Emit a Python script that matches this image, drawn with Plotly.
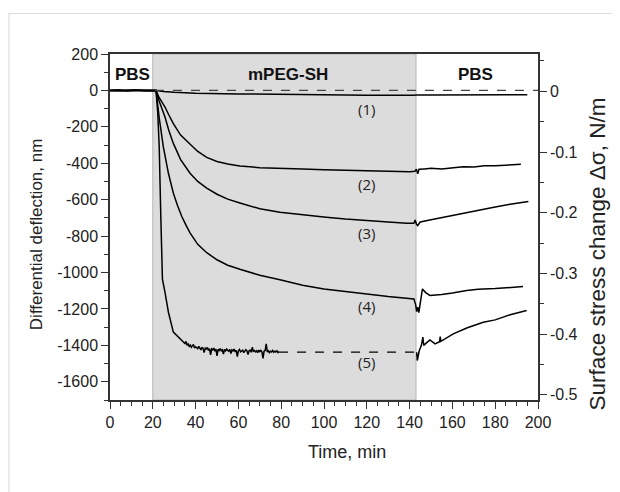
import plotly.graph_objects as go

# ---- data ----
t1 = [0, 5, 10, 15, 20, 21.5, 25, 30, 40, 60, 80, 100, 120, 142, 143, 150, 170, 195]
v1 = [0, -2, 2, -1, 0, 0, -6, -10, -15, -19, -22, -24, -26, -27, -25, -25, -24, -24]

t2 = [0, 4, 8, 12, 16, 20, 21.5, 23, 25.7, 27.5, 29.6, 33, 37.4, 41, 45.2, 50, 55, 60.7, 70, 79.4,
      90, 100, 110, 120, 130, 135, 140, 142.5, 143.2, 143.8, 144.4, 147, 150, 155, 160, 165, 170,
      175, 180, 186, 192]
v2 = [0, 3, -3, 2, -2, 0, 0, -40, -91, -135, -182, -245, -293, -335, -368, -390, -404, -415, -424, -429,
      -432, -435, -438, -440, -443, -447, -446, -444, -432, -458, -433, -431, -428, -432, -424, -419, -421,
      -414, -413, -410, -406]

t3 = [0, 21.5, 23, 25.7, 27.5, 29.6, 33, 37.4, 41, 45.2, 50, 55, 60.7, 70, 79.4, 90, 101, 110, 120,
      130, 138.6, 142, 142.6, 143.2, 143.8, 145, 150, 155, 160, 166.7, 172, 180, 187, 195.5]
v3 = [0, 0, -60, -146, -220, -291, -380, -455, -500, -536, -570, -597, -618, -650, -669, -684, -696, -706, -716,
      -723, -729, -730, -712, -735, -742, -722, -710, -698, -688, -669, -658, -640, -625, -610]

t4 = [0, 21.5, 23, 24.9, 27.3, 29.6, 31.5, 33.5, 35.5, 37.4, 41, 45.2, 50, 55, 60.7, 70, 79.4, 90, 100,
      110, 118, 130, 142, 142.8, 143.3, 143.8, 144.3, 146, 147.5, 149.5, 155, 160, 166.7, 172, 180, 186, 193]
v4 = [0, 0, -150, -309, -455, -564, -630, -691, -740, -782, -845, -891, -930, -960, -982, -1015, -1040, -1070, -1090,
      -1105, -1117, -1132, -1145, -1175, -1215, -1190, -1220, -1090, -1110, -1126, -1120, -1113, -1099, -1092, -1088, -1083, -1077]

t5 = [0, 21.5, 22.3, 23.0, 23.7, 24.5, 25.7, 27.3, 29.6, 31.9, 34.3,
      35, 35.5, 36, 36.5, 37, 37.5, 38, 38.5, 39, 39.5, 40, 40.5, 41, 41.5, 42, 42.5, 43, 43.5, 44, 44.5,
      45, 45.5, 46, 46.5, 47, 47.5, 48, 48.5, 49, 49.5, 50, 50.5, 51, 51.5, 52, 52.5, 53, 53.5, 54, 54.5,
      55, 55.5, 56, 56.5, 57, 57.5, 58, 58.5, 59, 59.5, 60, 60.5, 61, 61.5, 62, 62.5, 63, 63.5, 64, 64.5,
      65, 65.5, 66, 66.5, 67, 67.5, 68, 68.5, 69, 69.5, 70, 70.5, 71, 71.5, 72, 72.5, 73, 73.5, 74, 74.5,
      75, 75.5, 76, 76.5, 77, 77.5, 78, 78.5, 79]
v5 = [0, 0, -120, -309, -673, -1036, -1109, -1218, -1327, -1355, -1382,
      -1390, -1378, -1400, -1392, -1405, -1398, -1410, -1402, -1395, -1415, -1408, -1412, -1420, -1405, -1418, -1425, -1410, -1418, -1440, -1415,
      -1420, -1412, -1428, -1418, -1452, -1420, -1425, -1415, -1432, -1420, -1458, -1422, -1428, -1418, -1430, -1425, -1448, -1422, -1430, -1420,
      -1428, -1432, -1422, -1445, -1425, -1430, -1420, -1436, -1428, -1462, -1430, -1422, -1435, -1428, -1426, -1440, -1432, -1424, -1430, -1450,
      -1430, -1426, -1438, -1410, -1432, -1428, -1436, -1430, -1440, -1426, -1434, -1428, -1436, -1472, -1432, -1428, -1392, -1436,
      -1430, -1440, -1432, -1436, -1428, -1438, -1432, -1436, -1430, -1440, -1434, -1438, -1462]

t5_gap = [79, 143.3]
v5_gap = [-1437, -1437]

t5b = [143.3, 143.6, 144.5, 145.5, 146.2, 146.6, 148, 149.5, 151.9, 154, 154.3, 154.6, 160.4, 167, 174.4, 180, 187, 194.7]
v5b = [-1438, -1483, -1430, -1400, -1355, -1400, -1385, -1370, -1392, -1380, -1352, -1378, -1337, -1303, -1273, -1260, -1232, -1209]

t_zero = [21, 200]
v_zero = [0, 0]

curve_labels = ["(1)", "(2)", "(3)", "(4)", "(5)"]
label_t = [120, 120, 120, 120, 120]
label_v = [-100, -513, -782, -1182, -1491]

phase_names = ["PBS", "mPEG-SH", "PBS"]
phase_t = [10.3, 83, 170.6]
phase_v = [88, 88, 88]
inject_start, inject_end = 20, 143

x_ticks = list(range(0, 201, 20))
y_ticks = list(range(-1600, 201, 200))
y_ticklabels = ["-1600", "-1400", "-1200", "-1000", "-800", "-600", "-400", "-200", "0", "200"]
y2_ticks = [0, -0.1, -0.2, -0.3, -0.4, -0.5]
y2_ticklabels = ["0", "-0.1", "-0.2", "-0.3", "-0.4", "-0.5"]

# ---- figure ----
fig = go.Figure()
line = dict(color="black", width=1.5)
for tx, vy in [(t1, v1), (t2, v2), (t3, v3), (t4, v4), (t5, v5), (t5b, v5b)]:
    fig.add_trace(go.Scatter(x=tx, y=vy, mode="lines", line=line, showlegend=False, hoverinfo="skip"))
fig.add_trace(go.Scatter(x=t5_gap, y=v5_gap, mode="lines",
                         line=dict(color="black", width=1.3, dash="dash"), showlegend=False))
fig.add_trace(go.Scatter(x=t_zero, y=v_zero, mode="lines",
                         line=dict(color="#444", width=1.3, dash="dash"), showlegend=False))
fig.add_trace(go.Scatter(x=[0], y=[0], yaxis="y2", mode="markers",
                         marker=dict(opacity=0), showlegend=False, hoverinfo="skip"))

fig.add_shape(type="rect", xref="x", yref="y", x0=inject_start, x1=inject_end, y0=-1700, y1=200,
              fillcolor="#dcdcdc", line=dict(color="#b4b4b4", width=1), layer="below")

# outer light border of the picture
fig.add_shape(type="rect", xref="paper", yref="paper", x0=-0.236, x1=1.25, y0=-0.4, y1=1.117,
              line=dict(color="#dddddd", width=1.2), fillcolor="rgba(0,0,0,0)", layer="below")

for lab, tx, vy in zip(curve_labels, label_t, label_v):
    fig.add_annotation(x=tx, y=vy, text=lab, showarrow=False,
                       font=dict(family="Open Sans", size=15, color="#222"))
for lab, tx, vy in zip(phase_names, phase_t, phase_v):
    fig.add_annotation(x=tx, y=vy, text="<b>" + lab + "</b>", showarrow=False,
                       font=dict(family="Liberation Sans, Arial", size=17, color="#111"))

# axis titles as annotations for exact placement
fig.add_annotation(xref="paper", yref="paper", x=-0.17, y=0.48, text="Differential deflection, nm",
                   textangle=-90, showarrow=False, xanchor="center", yanchor="middle",
                   font=dict(family="Liberation Sans, Arial", size=17, color="#222"))
fig.add_annotation(xref="paper", yref="paper", x=1.138, y=0.421, text="Surface stress change Δσ, N/m",
                   textangle=-90, showarrow=False, xanchor="center", yanchor="middle",
                   font=dict(family="Liberation Sans, Arial", size=22.5, color="#222"))
fig.add_annotation(xref="paper", yref="paper", x=0.554, y=-0.15, text="Time, min",
                   showarrow=False, xanchor="center", yanchor="middle",
                   font=dict(family="Liberation Sans, Arial", size=18, color="#222"))

axis_font = dict(family="Liberation Sans, Arial", size=16, color="#222")
fig.update_layout(
    width=620, height=492,
    margin=dict(l=102, r=90, t=45.5, b=100),
    paper_bgcolor="white", plot_bgcolor="white",
    font=dict(family="Liberation Sans, Arial", color="#222"),
    xaxis=dict(range=[0, 200], tickvals=x_ticks, ticks="outside", ticklen=7, tickwidth=1.3,
               tickcolor="#333", showline=True, linecolor="#333", linewidth=1.5, mirror=True,
               showgrid=False, zeroline=False, tickfont=axis_font, automargin=False,
               minor=dict(dtick=5, ticks="outside", ticklen=4, tickcolor="#333", tickwidth=1)),
    yaxis=dict(range=[-1700, 200], tickvals=y_ticks, ticktext=y_ticklabels, ticks="outside",
               ticklen=7, tickwidth=1.3, automargin=False,
               tickcolor="#333", showline=True, linecolor="#333", linewidth=1.5,
               showgrid=False, zeroline=False, tickfont=axis_font,
               minor=dict(dtick=100, ticks="outside", ticklen=4, tickcolor="#333", tickwidth=1)),
    yaxis2=dict(range=[-0.5085, 0.0615], overlaying="y", side="right", tickvals=y2_ticks,
                ticktext=y2_ticklabels, ticks="outside", ticklen=7, tickwidth=1.3, tickcolor="#333",
                showline=True, linecolor="#333", linewidth=1.5, showgrid=False, zeroline=False,
                tickfont=axis_font, automargin=False,
                minor=dict(dtick=0.05, ticks="outside", ticklen=4, tickcolor="#333", tickwidth=1)),
)

fig.write_html("out.html")
